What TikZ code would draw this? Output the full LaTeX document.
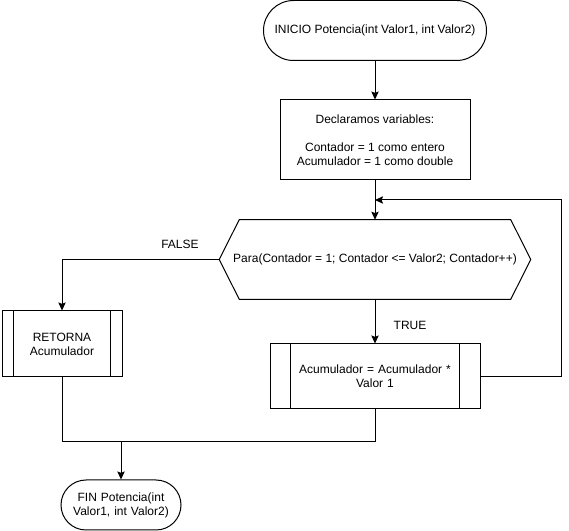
\documentclass[tikz,border=0pt]{standalone}
\usepackage{fontspec}
\setmainfont{Liberation Sans}
\usetikzlibrary{arrows.meta}
\begin{document}
\begin{tikzpicture}[x=0.75pt,y=-0.75pt,
  every node/.style={font=\fontsize{9}{10.5}\selectfont, align=center, inner sep=0pt},
  line/.style={line width=0.75pt, black},
  arr/.style={line, -{Stealth[length=6pt,width=5.5pt,inset=1pt]}},
  term/.style={draw, line width=0.75pt, rectangle},
  proc/.style={draw, line width=0.75pt, rectangle},
  sub/.style={draw, line width=0.75pt, rectangle},
  lbl/.style={font=\fontsize{9}{10.5}\selectfont}
]
\useasboundingbox (0,0) rectangle (569,531);

\node[term, rounded corners=22.5pt, minimum width=167.25pt, minimum height=45pt] (start) at (375,30.5) {INICIO Potencia(int Valor1, int Valor2)};

\node[proc, minimum width=142.5pt, minimum height=60pt] (decl) at (375,140) {Declaramos variables:\\[10.5pt]Contador = 1 como entero\\Acumulador = 1 como double};

\node[minimum width=233.25pt, minimum height=59.25pt] (hex) at (375,259.5) {Para(Contador = 1; Contador <= Valor2; Contador++)};
\draw[line] (hex.west) -- ([xshift=15pt]hex.north west) -- ([xshift=-15pt]hex.north east) -- (hex.east) -- ([xshift=-15pt]hex.south east) -- ([xshift=15pt]hex.south west) -- cycle;

\node[sub, minimum width=90pt, minimum height=49.5pt] (ret) at (62,344) {RETORNA\\Acumulador};
\draw[line] ([xshift=9pt]ret.north west) -- ([xshift=9pt]ret.south west);
\draw[line] ([xshift=-9pt]ret.north east) -- ([xshift=-9pt]ret.south east);

\node[sub, minimum width=157.5pt, minimum height=48.75pt, text width=120pt] (acc) at (375,376.5) {Acumulador = Acumulador *\\Valor 1};
\draw[line] ([xshift=15.75pt]acc.north west) -- ([xshift=15.75pt]acc.south west);
\draw[line] ([xshift=-15.75pt]acc.north east) -- ([xshift=-15.75pt]acc.south east);

\node[term, rounded corners=18.75pt, minimum width=90pt, minimum height=37.5pt, text width=80pt] (fin) at (121,505) {FIN Potencia(int\\Valor1, int Valor2)};

\coordinate (join) at (375,200);
\coordinate (loopR) at (561,376.5);
\coordinate (loopT) at (561,200);
\coordinate (falseC) at (62,259.5);
\coordinate (mL) at (62,442);
\coordinate (mR) at (375,442);
\coordinate (mC) at (121,442);

\draw[arr] (start.south) -- (decl.north);
\draw[arr] (decl.south) -- (hex.north);
\draw[arr] (acc.east) -- (loopR) -- (loopT) -- (join);
\draw[arr] (hex.west) -- (falseC) -- (ret.north);
\draw[arr] (hex.south) -- (acc.north);
\draw[line] (ret.south) -- (mL) -- (mR) -- (acc.south);
\draw[arr] (mC) -- (fin.north);

\node[lbl] (lf) at (180,244) {FALSE};
\node[lbl] (lt) at (410,325) {TRUE};
\end{tikzpicture}
\end{document}
